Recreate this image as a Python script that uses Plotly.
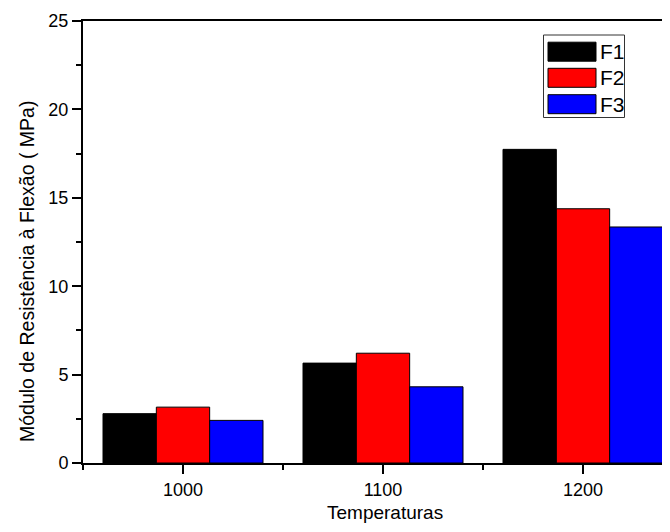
import plotly.graph_objects as go

categories = ["1000", "1100", "1200"]
series_names = ["F1", "F2", "F3"]
f1_values = [2.79, 5.65, 17.74]
f2_values = [3.16, 6.21, 14.38]
f3_values = [2.41, 4.31, 13.35]
series_values = [f1_values, f2_values, f3_values]
series_colors = ["#000000", "#FF0000", "#0000FF"]
y_ticks = [0, 5, 10, 15, 20, 25]

# page body has an 8px default margin: the figure is sized so its plot area
# lands at x 83..670, y 21..463 in the 670x532 window
OFF = 8
W, H = 670 - OFF, 532 - OFF
PL, PR, PT, PB = 83, 670, 21, 463          # plot area in window pixels
ML, MR, MT, MB = PL - OFF, 0, PT - OFF, OFF + H - PB
PW, PH = PR - PL, PB - PT

def px_x(p):
    return (p - PL) / PW

def px_y(p):
    return (PB - p) / PH

SANS = "Liberation Sans, Arial, sans-serif"
TICK_FONT = dict(family=SANS, size=18, color="#000")

fig = go.Figure()
xpos = list(range(len(categories)))
for name, vals, col in zip(series_names, series_values, series_colors):
    fig.add_trace(go.Bar(
        x=xpos, y=vals, name=name,
        marker=dict(color=col, line=dict(color="#000", width=1)),
        showlegend=False,
    ))

fig.update_layout(
    width=W, height=H,
    margin=dict(l=ML, r=MR, t=MT, b=MB, pad=0),
    paper_bgcolor="white", plot_bgcolor="white",
    barmode="group", bargap=0.2, bargroupgap=0,
    font=TICK_FONT,
)
fig.update_xaxes(
    range=[-0.5, -0.5 + PW / 200.0],
    tickmode="array", tickvals=xpos, ticktext=categories,
    ticks="outside", ticklen=9, tickwidth=1.5, tickcolor="#000",
    showline=True, linecolor="#000", linewidth=2, mirror=True,
    showgrid=False, zeroline=False,
    tickfont=TICK_FONT,
    minor=dict(tickmode="array", tickvals=[-0.5, 0.5, 1.5, 2.5],
               ticks="outside", ticklen=5, tickwidth=1.5, tickcolor="#000", showgrid=False),
)
fig.update_yaxes(
    range=[0, 25],
    tickmode="array", tickvals=y_ticks,
    ticks="outside", ticklen=9, tickwidth=1.5, tickcolor="#000",
    showline=True, linecolor="#000", linewidth=2, mirror=False,
    showgrid=False, zeroline=False,
    tickfont=TICK_FONT,
    minor=dict(dtick=2.5, tick0=0, ticks="outside", ticklen=5, tickwidth=1.5,
               tickcolor="#000", showgrid=False),
)

# axis titles
fig.add_annotation(
    text="Temperaturas", xref="paper", yref="paper",
    x=px_x(385), y=px_y(512), xanchor="center", yanchor="middle",
    showarrow=False, font=dict(family=SANS, size=19, color="#000"),
)
fig.add_annotation(
    text="Módulo de Resistência à Flexão ( MPa)", xref="paper", yref="paper",
    x=px_x(27), y=px_y(272), xanchor="center", yanchor="middle", textangle=-90,
    showarrow=False, font=dict(family=SANS, size=19.5, color="#000"),
)

# legend drawn as box + swatches
shapes = [dict(type="rect", xref="paper", yref="paper",
               x0=px_x(543.5), x1=px_x(624.5), y0=px_y(117.5), y1=px_y(35),
               line=dict(color="#333", width=1), fillcolor="white", layer="above")]
row_centers = [51.7, 77.8, 104.2]
for name, col, yc in zip(series_names, series_colors, row_centers):
    shapes.append(dict(type="rect", xref="paper", yref="paper",
                       x0=px_x(548), x1=px_x(596), y0=px_y(yc + 9.5), y1=px_y(yc - 9.5),
                       line=dict(color="#000", width=1), fillcolor=col, layer="above"))
    fig.add_annotation(text=name, xref="paper", yref="paper",
                       x=px_x(598), y=px_y(yc), xanchor="left", yanchor="middle",
                       showarrow=False, font=dict(family=SANS, size=21, color="#000"))
fig.update_layout(shapes=shapes)

fig.write_html("out.html")
